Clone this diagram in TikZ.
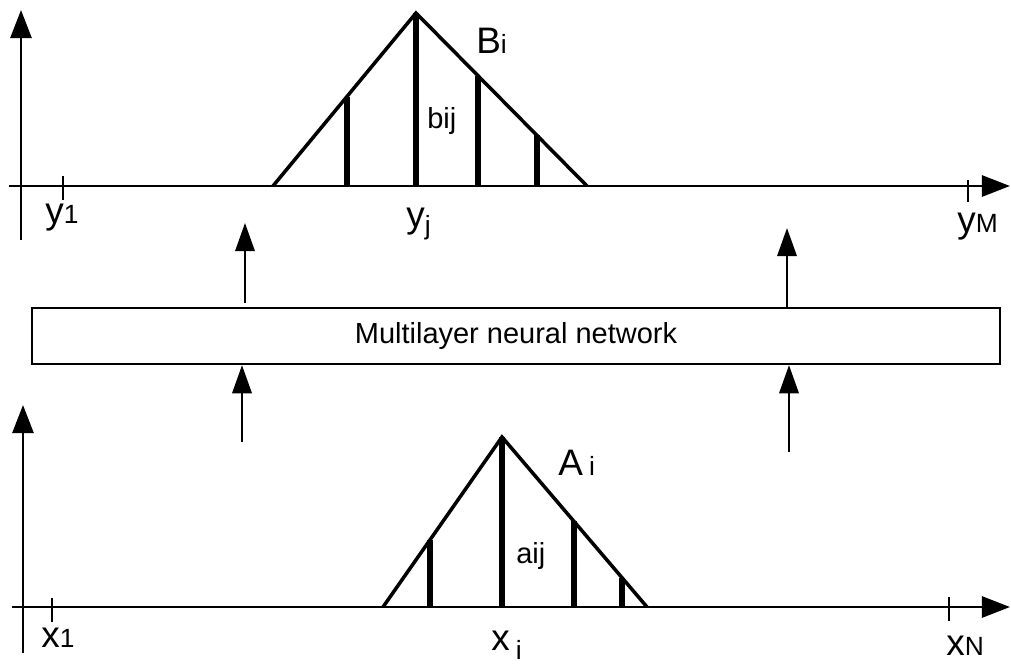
\documentclass[tikz,border=0pt]{standalone}
\usepackage{fontspec}
\setmainfont{Liberation Sans}
\usetikzlibrary{calc,arrows.meta}
\tikzset{
  axis/.style={line width=1.5pt, -{Triangle[length=16pt,width=12pt]}},
  tickmark/.style={line width=1.4pt},
  tri/.style={line width=2pt, line join=miter},
  stem/.style={line width=3pt},
  flow/.style={line width=1.4pt, -{Triangle[length=16pt,width=11pt]}},
  netbox/.style={draw, line width=1.3pt, minimum width=19.36cm, minimum height=1.12cm,
                 inner sep=0pt, font=\fontsize{16.5}{19}\selectfont},
  big/.style={font=\fontsize{21}{24}\selectfont, inner sep=0pt, anchor=base west},
  mid/.style={font=\fontsize{16.5}{19}\selectfont, inner sep=0pt, anchor=base west},
  }
\newcommand{\sm}[1]{{\fontsize{15}{17}\selectfont #1}}

\begin{document}
\begin{tikzpicture}[x=0.02cm,y=-0.02cm]
  \useasboundingbox (0,0) rectangle (1011,663);

  % output space
  \draw[axis] (21,240) -- (21,10);
  \draw[axis] (9,186) -- (1010,186);
  \draw[tickmark] (63,176) -- (63,200) (968,180) -- (968,202);

  \coordinate (bl) at (273,186);  % left foot
  \coordinate (ba) at (416,13);   % apex
  \coordinate (br) at (587,186);  % right foot
  \draw[tri] (bl) -- (ba) -- (br);
  \draw[stem] (ba) -- (ba |- bl);
  \foreach \p/\q/\t [count=\k] in {bl/ba/0.517, ba/br/0.363, ba/br/0.708} {
    \coordinate (bs\k) at ($(\p)!\t!(\q)$);
    \draw[stem] (bs\k) -- (bs\k |- bl);
  }

  \node[big] (y1) at (45,223) {y\sm{1}};
  \node[big] (yj) at (406,227) {y\raisebox{-4pt}{\sm{j}}};
  \node[big] (yM) at (957,232) {y\sm{M}};
  \node[big] (Bi) at (476,53) {B\sm{i}};
  \node[mid] (bij) at (427,128) {bij};

  % network
  \node[netbox] (net) at (516,336) {Multilayer neural network};

  \coordinate (o1) at (245,223);
  \coordinate (o2) at (787,228);
  \coordinate (i1) at (242,442);
  \coordinate (i2) at (789,452);
  \draw[flow] (245,303) -- (o1);
  \draw[flow] (net.north -| o2) -- (o2);
  \draw[flow] (i1) -- (i1 |- net.south);
  \draw[flow] (i2) -- (i2 |- net.south);

  % input space
  \draw[axis] (23,653) -- (23,405);
  \draw[axis] (12,607) -- (1010,607);
  \draw[tickmark] (52,598) -- (52,622) (949,597) -- (949,621);

  \coordinate (al) at (383,607);  % left foot
  \coordinate (aa) at (502,437);  % apex
  \coordinate (ar) at (647,607);  % right foot
  \draw[tri] (al) -- (aa) -- (ar);
  \draw[stem] (aa) -- (aa |- al);
  \foreach \p/\q/\t [count=\k] in {al/aa/0.395, aa/ar/0.497, aa/ar/0.828} {
    \coordinate (as\k) at ($(\p)!\t!(\q)$);
    \draw[stem] (as\k) -- (as\k |- al);
  }

  \node[big] (x1) at (41,647) {x\sm{1}};
  \node[big] (xi) at (491,650) {x\,\raisebox{-5.5pt}{\sm{i}}};
  \node[big] (xN) at (946,655) {x\sm{N}};
  \node[big] (Ai) at (558,475) {A\,\sm{i}};
  \node[mid] (aij) at (516,563) {aij};
\end{tikzpicture}
\end{document}
